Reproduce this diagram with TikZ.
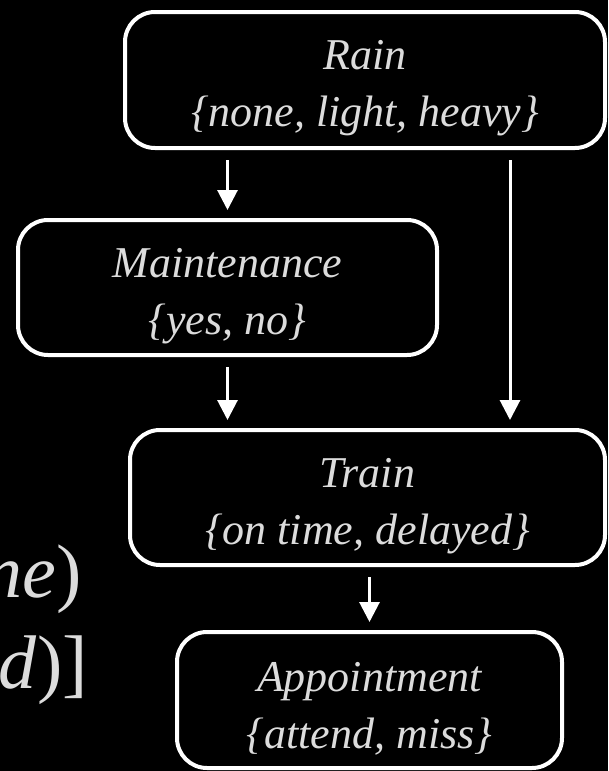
\documentclass[tikz,border=0pt]{standalone}
\usepackage{fontspec}
\setmainfont{Liberation Serif}
\usetikzlibrary{arrows.meta}
\definecolor{labelgray}{HTML}{DCDCDC}
% extra room above the first line, so the two lines sit a little low in each box
\newcommand{\firstlinepad}{\rule{0pt}{46pt}}
\begin{document}
\begin{tikzpicture}[x=1pt,y=-1pt,
  varbox/.style={draw=white, line width=4pt, rounded corners=30pt, fill=black,
    text=labelgray, font=\fontsize{44}{57}\selectfont\itshape, align=center, inner sep=0pt},
  link/.style={draw=white, line width=3pt, -{Triangle[width=20pt,length=20pt]},
    shorten <=10pt, shorten >=8pt},
  formula/.style={text=labelgray, font=\fontsize{76}{76}\selectfont, anchor=base east, inner sep=0pt}]
% page and background
\fill[black] (0,0) rectangle (608,771);
\useasboundingbox (0,0) rectangle (608,771);

% variables of the network
\node[varbox, minimum width=480pt, minimum height=136pt] (rain) at (365,80)
  {\firstlinepad Rain\\\{none, light, heavy\}};
\node[varbox, minimum width=419pt, minimum height=135pt] (maint) at (227.5,287.5)
  {\firstlinepad Maintenance\\\{yes, no\}};
\node[varbox, minimum width=475pt, minimum height=135pt] (train) at (367.5,497.5)
  {\firstlinepad Train\\\{on time, delayed\}};
\node[varbox, minimum width=385pt, minimum height=136pt] (appt) at (369.5,700)
  {\firstlinepad Appointment\\\{attend, miss\}};

% dependencies
\coordinate (rt) at (510,0);
\draw[link] (rain.south -| maint.north) -- (maint.north);
\draw[link] (maint.south) -- (train.north -| maint.south);
\draw[link] (rain.south -| rt) -- (train.north -| rt);
\draw[link] (train.south -| appt.north) -- (appt.north);

% formula fragments at the left edge
\node[formula] (f1) at (82,597) {\textit{ne})};
\node[formula] (f2) at (88,688) {\textit{d})]};
\end{tikzpicture}
\end{document}
